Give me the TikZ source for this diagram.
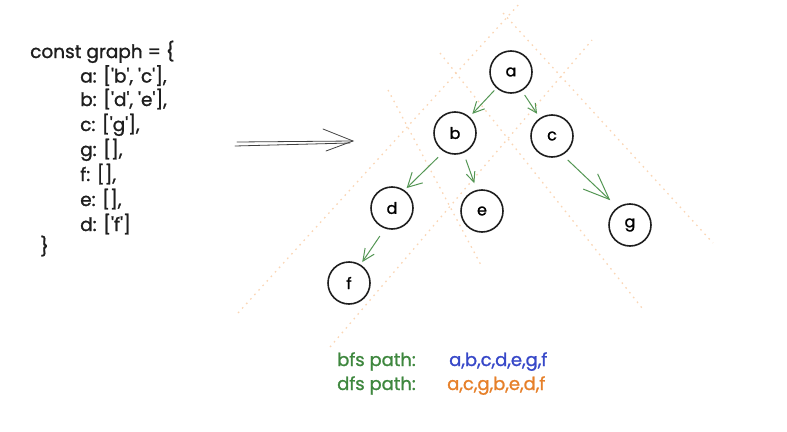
\documentclass[tikz,border=0pt]{standalone}
\usepackage{fontspec}
\setmainfont{Poppins}[FakeBold=1.2,AutoFakeBold=1.2]
\usetikzlibrary{arrows.meta}
\definecolor{ink}{RGB}{30,30,30}
\definecolor{edgegreen}{RGB}{84,150,84}
\definecolor{txtgreen}{RGB}{62,135,62}
\definecolor{pathblue}{RGB}{55,72,200}
\definecolor{pathorange}{RGB}{230,128,42}
\definecolor{guide}{RGB}{250,214,182}
\newcommand{\q}{\textquotesingle}
\begin{document}
\begin{tikzpicture}[x=1pt,y=-1pt,
  vertex/.style={circle,draw=ink,line width=1.6pt,minimum size=42pt,inner sep=0pt,
    font=\fontsize{16}{16}\selectfont\bfseries},
  edge/.style={draw=edgegreen,line width=1pt},
  codeline/.style={anchor=base west,inner sep=0pt,text=ink,font=\fontsize{18.5}{18.5}\selectfont},
  pathlabel/.style={anchor=base west,inner sep=0pt,font=\fontsize{18}{18}\selectfont},
  guideline/.style={draw=guide,line width=1.3pt,dash pattern=on 1.6pt off 4.5pt},
  bigarrow/.style={draw=ink!85,line width=0.8pt,line cap=round}]
\useasboundingbox (0,0) rectangle (787,431);

% dotted guide lines
\coordinate (gA1) at (238,313); \coordinate (gA2) at (520,3);
\coordinate (gB1) at (330,347); \coordinate (gB2) at (592,40);
\coordinate (gC1) at (440,53);  \coordinate (gC2) at (642,308);
\coordinate (gD1) at (388,90);  \coordinate (gD2) at (482,267);
\coordinate (gE1) at (503,13);  \coordinate (gE2) at (713,243);
\draw[guideline] (gA1) -- (gA2);
\draw[guideline] (gB1) -- (gB2);
\draw[guideline] (gC1) -- (gC2);
\draw[guideline] (gD1) -- (gD2);
\draw[guideline] (gE1) -- (gE2);

% code
\node[codeline] (code1) at (30,58) {const graph = \{};
\node[codeline] (code2) at (80,82.5) {a: [\q b\q, \q c\q],};
\node[codeline] (code3) at (80,106) {b: [\q d\q, \q e\q],};
\node[codeline] (code4) at (80,131) {c: [\q g\q],};
\node[codeline] (code5) at (80,156) {g: [],};
\node[codeline] (code6) at (80,181) {f: [],};
\node[codeline] (code7) at (80,206) {e: [],};
\node[codeline] (code8) at (80,231) {d: [\q f\q]};
\node[codeline] (code9) at (40,253) {\}};

% big arrow
\coordinate (ar1) at (237,142); \coordinate (ar2) at (353,141);
\coordinate (ar3) at (235,146); \coordinate (ar4) at (350,143);
\coordinate (ar5) at (323,129); \coordinate (ar6) at (326,151);
\draw[bigarrow] (ar1) -- (ar2);
\draw[bigarrow] (ar3) -- (ar4);
\draw[bigarrow] (ar5) -- (ar2) -- (ar6);

% tree
\node[vertex] (a) at (511,72) {a};
\node[vertex] (b) at (455,133) {b};
\node[vertex] (c) at (552,136) {c};
\node[vertex] (d) at (392,208) {d};
\node[vertex] (e) at (482,211) {e};
\node[vertex] (g) at (630,225) {g};
\node[vertex] (f) at (349,283) {f};

\draw[edge,-{Straight Barb[length=11pt,width=11pt]},shorten <=3pt,shorten >=4pt] (a.228) -- (b.48);
\draw[edge,-{Straight Barb[length=9pt,width=9pt]},shorten <=5pt,shorten >=5pt] (a.-60) -- (c.124);
\draw[edge,-{Straight Barb[length=14pt,width=15pt]},shorten <=8pt,shorten >=3pt] (b.239) -- (d.55);
\draw[edge,-{Straight Barb[length=10pt,width=9pt]},shorten <=7pt,shorten >=7pt] (b.-67) -- (e.104);
\draw[edge,-{Straight Barb[length=26pt,width=21pt]},shorten <=7pt,shorten >=10pt] (c.-61) -- (g.125);
\draw[edge,-{Straight Barb[length=12pt,width=11pt]},shorten <=9pt,shorten >=3pt] (d.251) -- (f.58);

% paths
\node[pathlabel,text=txtgreen] (bfsl) at (337,366) {bfs path:};
\node[pathlabel,text=pathblue] (bfsp) at (449,366) {a,b,c,d,e,g,f};
\node[pathlabel,text=txtgreen] (dfsl) at (337,390) {dfs path:};
\node[pathlabel,text=pathorange] (dfsp) at (447,390) {a,c,g,b,e,d,f};
\end{tikzpicture}
\end{document}
